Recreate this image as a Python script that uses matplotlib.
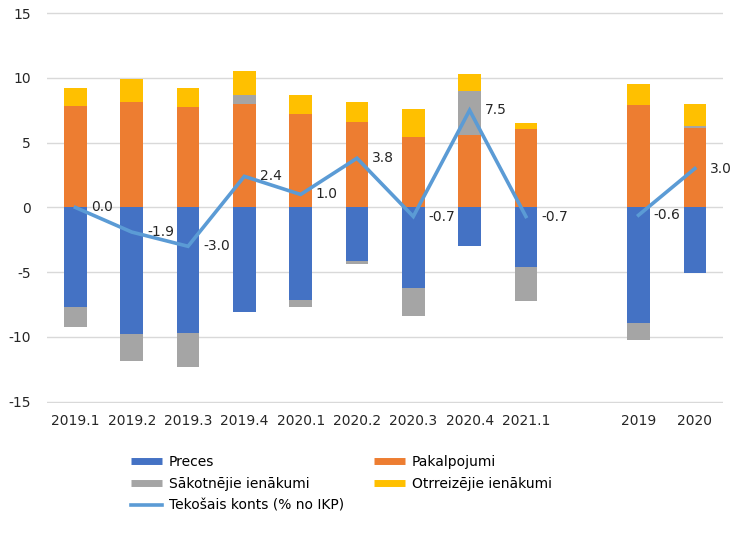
import numpy as np
import matplotlib
matplotlib.use("Agg")
import matplotlib.pyplot as plt
from matplotlib.lines import Line2D

nan = np.nan

categories = ["2019.1", "2019.2", "2019.3", "2019.4", "2020.1", "2020.2",
              "2020.3", "2020.4", "2021.1", "", "2019", "2020"]

preces = [-7.7, -9.75, -9.7, -8.1, -7.15, -4.1, -6.25, -2.95, -4.6, nan, -8.9, -5.05]
pakalpojumi = [7.8, 8.1, 7.75, 8.0, 7.2, 6.6, 5.45, 5.6, 6.05, nan, 7.9, 6.15]
sakotnejie = [-1.55, -2.1, -2.65, 0.7, -0.55, -0.3, -2.15, 3.4, -2.65, nan, -1.35, 0.15]
otrreizejie = [1.4, 1.8, 1.5, 1.8, 1.5, 1.5, 2.15, 1.3, 0.5, nan, 1.6, 1.65]
tekosais = [0.0, -1.9, -3.0, 2.4, 1.0, 3.8, -0.7, 7.5, -0.7, nan, -0.6, 3.0]

series = [
    ("Preces", preces, "#4472C4"),
    ("Pakalpojumi", pakalpojumi, "#ED7D31"),
    ("Sākotnējie ienākumi", sakotnejie, "#A5A5A5"),
    ("Otrreizējie ienākumi", otrreizejie, "#FFC000"),
]
line_color = "#5B9BD5"

plt.rcParams["font.family"] = ["DejaVu Sans"]
plt.rcParams["axes.unicode_minus"] = False

fig = plt.figure(figsize=(7.5, 5.36), dpi=100)
ax = fig.add_axes([0.063, 0.248, 0.901, 0.730])

x = np.arange(len(categories))
pos_bottom = np.zeros(len(x))
neg_bottom = np.zeros(len(x))
handles = {}
for name, vals, color in series:
    v = np.nan_to_num(np.array(vals, dtype=float))
    bottom = np.where(v >= 0, pos_bottom, neg_bottom)
    ax.bar(x, v, width=0.4, bottom=bottom, color=color, zorder=2)
    pos_bottom = pos_bottom + np.where(v > 0, v, 0)
    neg_bottom = neg_bottom + np.where(v < 0, v, 0)
    handles[name] = Line2D([], [], color=color, lw=5, solid_capstyle="butt")

ax.plot(x, tekosais, color=line_color, lw=2.6, zorder=3, solid_joinstyle="miter")
handles["Tekošais konts (% no IKP)"] = Line2D([], [], color=line_color, lw=2.6)

for xi, v in zip(x, tekosais):
    if np.isnan(v):
        continue
    ax.annotate(f"{v:.1f}", (xi, v), xytext=(11, 0), textcoords="offset points",
                ha="left", va="center", fontsize=10, color="#262626", zorder=4)

ax.set_xlim(-0.5, len(x) - 0.5)
ax.set_ylim(-15.1, 15.1)
ax.set_yticks(np.arange(-15, 16, 5))
ax.set_xticks(x)
ax.set_xticklabels(categories)
ax.tick_params(axis="both", length=0, labelsize=10, colors="#262626")
ax.tick_params(axis="x", pad=8)
ax.tick_params(axis="y", pad=12)
ax.yaxis.grid(True, color="#D9D9D9", lw=1, zorder=0)
ax.set_axisbelow(True)
for s in ax.spines.values():
    s.set_visible(False)

order = ["Preces", "Sākotnējie ienākumi", "Tekošais konts (% no IKP)",
         "Pakalpojumi", "Otrreizējie ienākumi"]
fig.legend([handles[k] for k in order], order, ncol=2, loc="upper left",
           bbox_to_anchor=(0.175, 0.152), frameon=False, fontsize=10,
           handlelength=2.2, handletextpad=0.5, columnspacing=2.2,
           labelspacing=0.58, borderaxespad=0, borderpad=0)

fig.savefig("out.png", dpi=100)
